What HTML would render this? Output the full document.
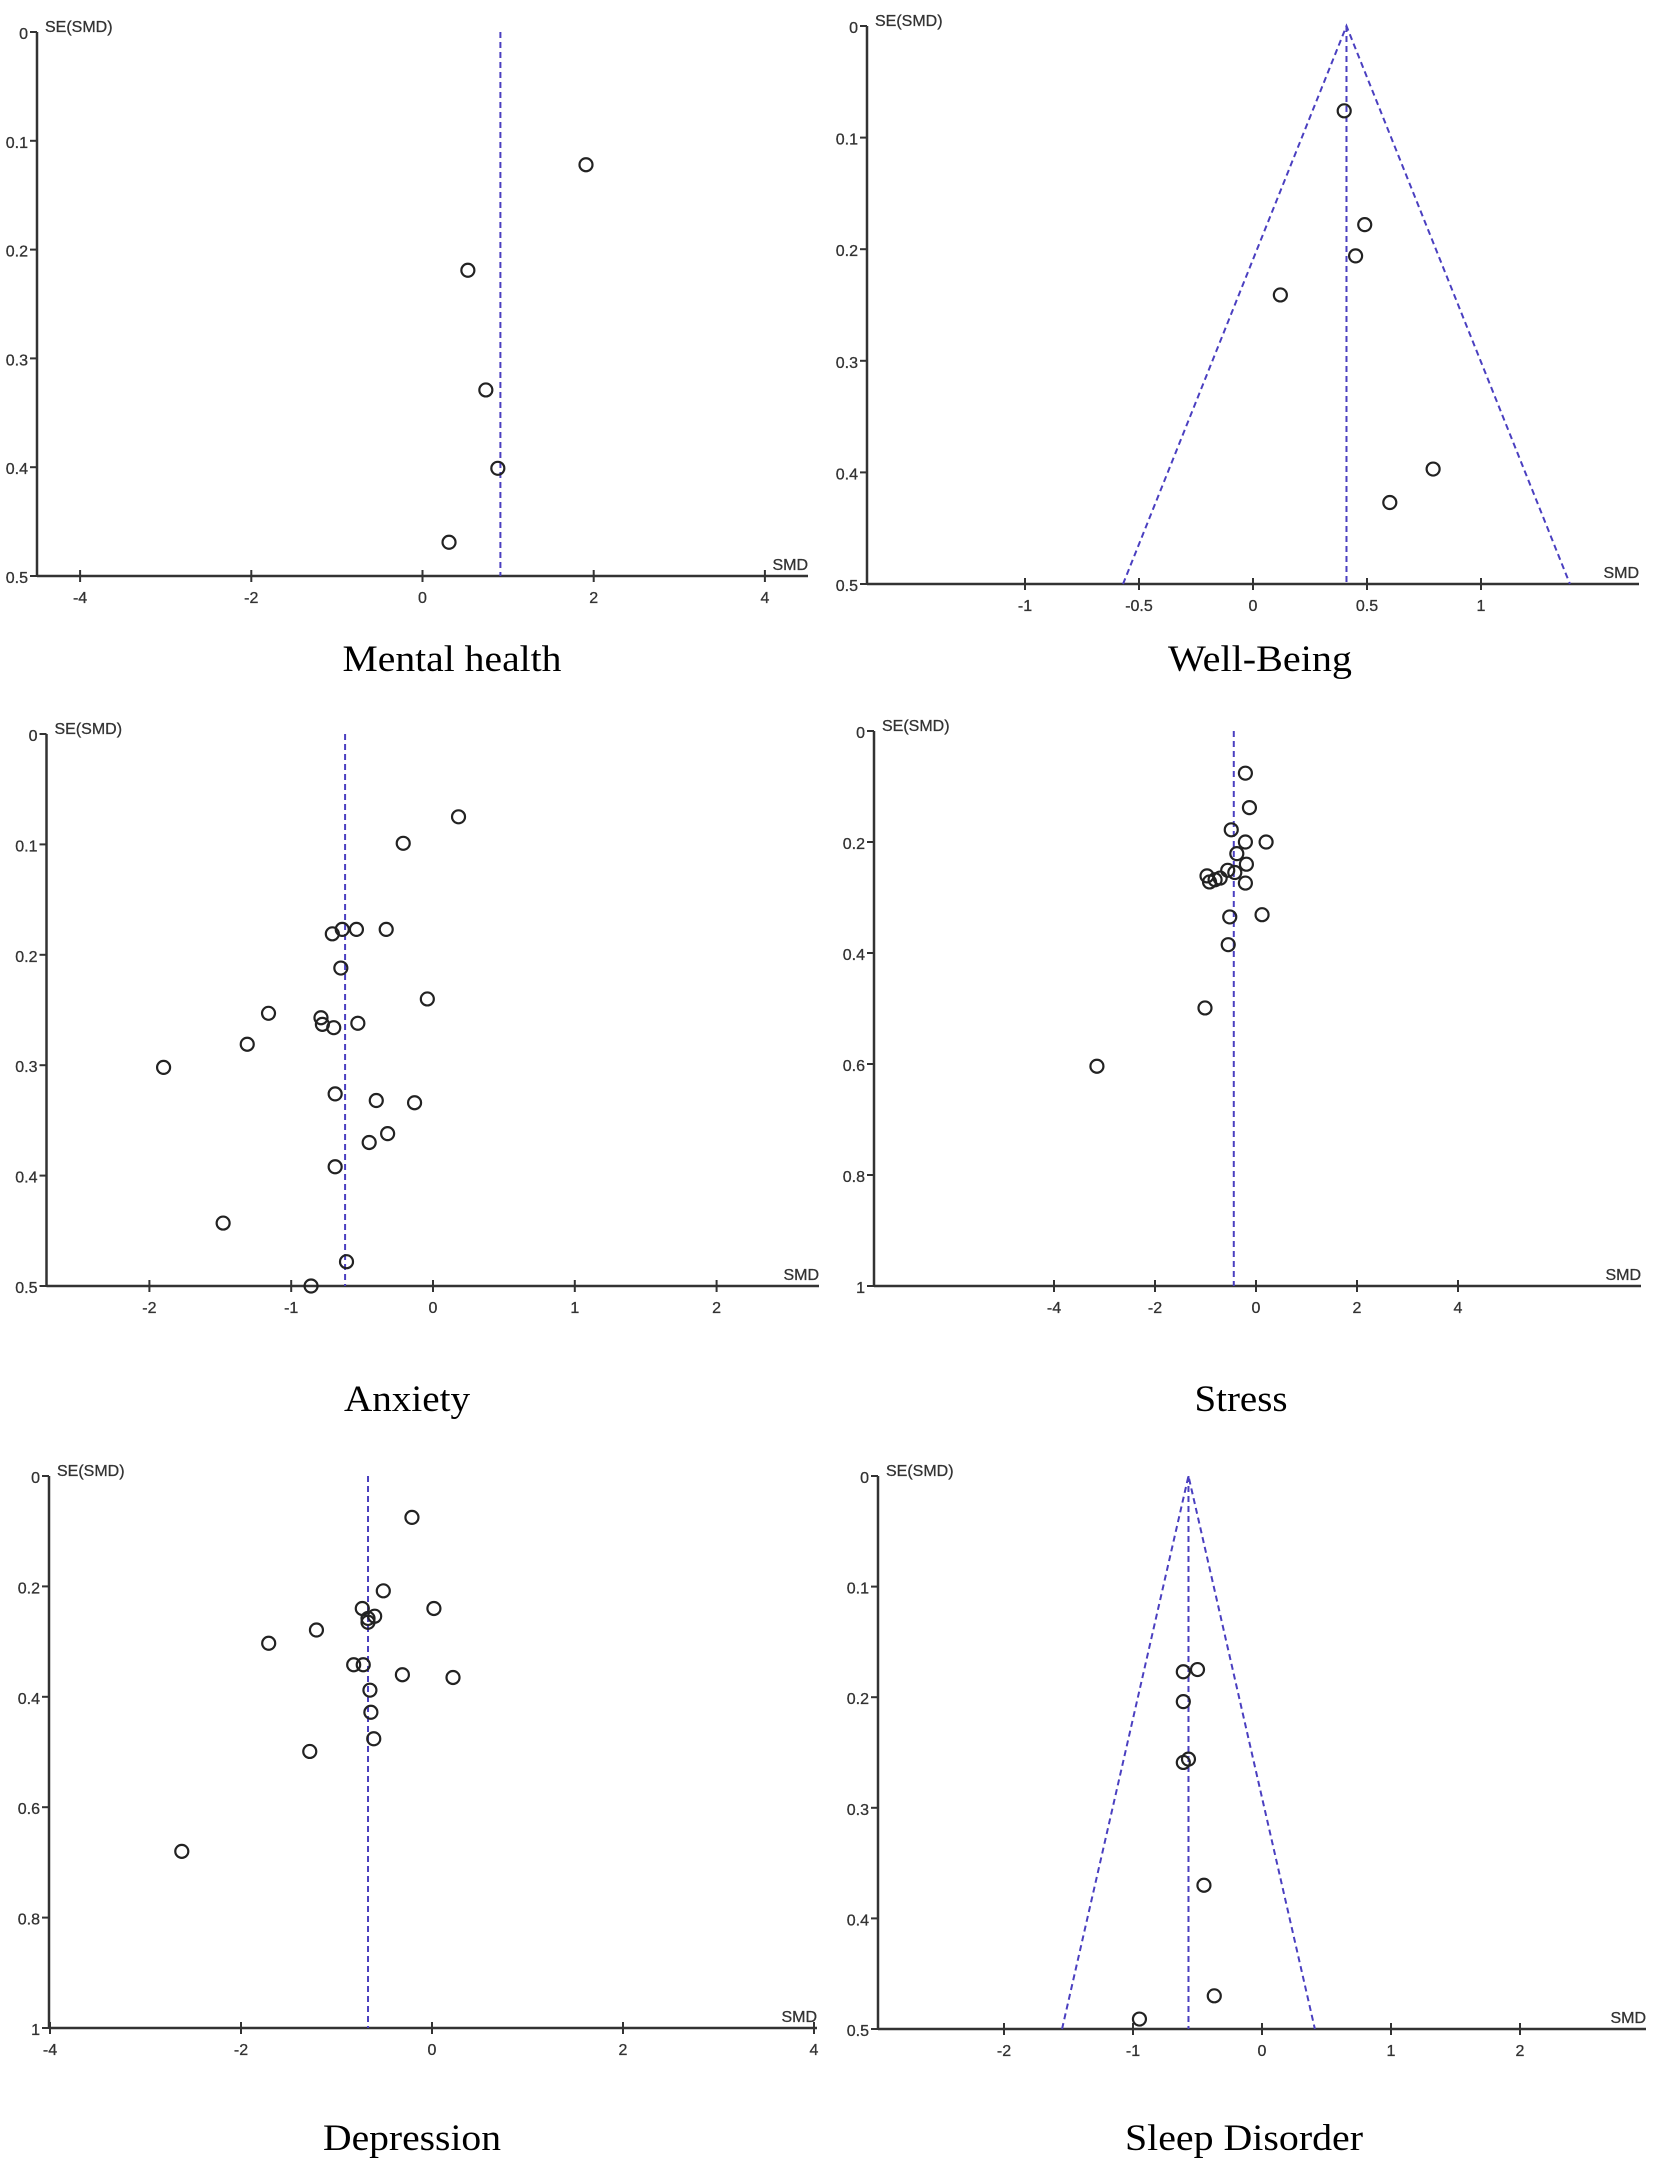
<!DOCTYPE html>
<html>
<head>
<meta charset="utf-8">
<style>
  html, body { margin:0; padding:0; background:#fff; }
  body { width:1658px; height:2162px; overflow:hidden; }
  svg { display:block; }
  .tick { font-family:"Liberation Sans", Arial, sans-serif; font-size:16px; fill:#333; stroke:#333; stroke-width:0.3px; }
  .cap { font-family:"Liberation Serif", "Times New Roman", serif; font-size:37px; fill:#000; }
</style>
</head>
<body>
<svg id="fig" width="1658" height="2162" viewBox="0 0 1658 2162" xmlns="http://www.w3.org/2000/svg"></svg>
<script>
// ---------- data (SMD, SE) per panel ----------
const mentalSMD = [1.91, 0.53, 0.74, 0.88, 0.31];
const mentalSE  = [0.122, 0.219, 0.329, 0.401, 0.469];
const mentalMean = 0.91;

const wellSMD = [0.40, 0.49, 0.45, 0.12, 0.79, 0.60];
const wellSE  = [0.076, 0.178, 0.206, 0.241, 0.397, 0.427];
const wellMean = 0.41;

const anxSMD = [0.18, -0.21, -0.64, -0.54, -0.33, -0.71, -0.65, -0.04, -1.16, -0.79, -0.78, -0.70, -0.53, -1.31, -1.90, -0.69, -0.40, -0.13, -0.32, -0.45, -0.69, -1.48, -0.61, -0.86];
const anxSE  = [0.075, 0.099, 0.177, 0.177, 0.177, 0.181, 0.212, 0.240, 0.253, 0.257, 0.263, 0.266, 0.262, 0.281, 0.302, 0.326, 0.332, 0.334, 0.362, 0.370, 0.392, 0.443, 0.478, 0.500];
const anxMean = -0.62;

const stressSMD = [-0.21, -0.13, -0.49, -0.21, 0.20, -0.38, -0.19, -0.56, -0.42, -0.97, -0.71, -0.81, -0.92, -0.21, 0.12, -0.52, -0.55, -1.01, -3.15];
const stressSE  = [0.076, 0.138, 0.178, 0.200, 0.200, 0.221, 0.240, 0.251, 0.255, 0.261, 0.265, 0.268, 0.272, 0.274, 0.331, 0.335, 0.385, 0.499, 0.604];
const stressMean = -0.44;

const depSMD = [-0.21, -0.51, -0.73, 0.02, -0.60, -0.67, -0.67, -1.21, -1.71, -0.82, -0.72, -0.31, 0.22, -0.65, -0.64, -0.61, -1.28, -2.62];
const depSE  = [0.075, 0.208, 0.240, 0.240, 0.254, 0.258, 0.265, 0.279, 0.303, 0.342, 0.342, 0.360, 0.365, 0.388, 0.428, 0.476, 0.499, 0.680];
const depMean = -0.67;

const sleepSMD = [-0.50, -0.61, -0.61, -0.57, -0.61, -0.45, -0.37, -0.95];
const sleepSE  = [0.175, 0.177, 0.204, 0.256, 0.259, 0.370, 0.470, 0.491];
const sleepMean = -0.57;

// tick label arrays
const yTicksHalf = [0, 0.1, 0.2, 0.3, 0.4, 0.5];
const yTicksOne = [0, 0.2, 0.4, 0.6, 0.8, 1];
const xTicksFour = [-4, -2, 0, 2, 4];
const xTicksOneHalf = [-1, -0.5, 0, 0.5, 1];
const xTicksTwo = [-2, -1, 0, 1, 2];

const captions = ["Mental health", "Well-Being", "Anxiety", "Stress", "Depression", "Sleep Disorder"];

// ---------- layout ----------
const NS = "http://www.w3.org/2000/svg";
const svg = document.getElementById("fig");
function mk(tag, attrs, parent) {
  const e = document.createElementNS(NS, tag);
  for (const k in attrs) e.setAttribute(k, attrs[k]);
  (parent || svg).appendChild(e);
  return e;
}

const panels = [
  {key:"mental-health", smd:mentalSMD, se:mentalSE, mean:mentalMean, funnel:false, ax:37, y0:32, yb:576, seMax:0.5, x0:422.5, unit:85.6, xEnd:808, xStart:37, yt:yTicksHalf, xt:xTicksFour, cap:captions[0], capX:452, capY:671, capW:219},
  {key:"well-being", smd:wellSMD, se:wellSE, mean:wellMean, funnel:true, ax:867, y0:26, yb:584, seMax:0.5, x0:1253, unit:228, xEnd:1639, xStart:867, yt:yTicksHalf, xt:xTicksOneHalf, cap:captions[1], capX:1260, capY:671, capW:184},
  {key:"anxiety", smd:anxSMD, se:anxSE, mean:anxMean, funnel:false, ax:46.5, y0:734, yb:1286, seMax:0.5, x0:433, unit:141.8, xEnd:819, xStart:46.5, yt:yTicksHalf, xt:xTicksTwo, cap:captions[2], capX:407, capY:1411, capW:126},
  {key:"stress", smd:stressSMD, se:stressSE, mean:stressMean, funnel:false, ax:874, y0:731, yb:1286, seMax:1, x0:1256, unit:50.5, xEnd:1641, xStart:874, yt:yTicksOne, xt:xTicksFour, cap:captions[3], capX:1241, capY:1411, capW:93},
  {key:"depression", smd:depSMD, se:depSE, mean:depMean, funnel:false, ax:49, y0:1476, yb:2028, seMax:1, x0:432, unit:95.5, xEnd:817, xStart:49, yt:yTicksOne, xt:xTicksFour, cap:captions[4], capX:412, capY:2150, capW:178},
  {key:"sleep-disorder", smd:sleepSMD, se:sleepSE, mean:sleepMean, funnel:true, ax:878, y0:1476, yb:2029, seMax:0.5, x0:1262, unit:129, xEnd:1646, xStart:878, yt:yTicksHalf, xt:xTicksTwo, cap:captions[5], capX:1244, capY:2150, capW:238}
];

panels.forEach(p => {
  const xs = v => p.x0 + p.unit * v;
  const ys = v => p.y0 + (p.yb - p.y0) * v / p.seMax;
  const g = mk("g", {});
  
  

  const yAxis = mk("line", {x1:p.ax, y1:p.y0, x2:p.ax, y2:p.yb, stroke:"#333", "stroke-width":2.5}, g);
  
  
  const xAxis = mk("line", {x1:p.xStart, y1:p.yb, x2:p.xEnd, y2:p.yb, stroke:"#333", "stroke-width":2.5}, g);
  
  

  p.yt.forEach(t => {
    const y = ys(t);
    mk("line", {x1:p.ax-7, y1:y, x2:p.ax, y2:y, stroke:"#333", "stroke-width":2}, g);
    const tx = mk("text", {x:p.ax-9, y:y+7, "text-anchor":"end", class:"tick"}, g);
    tx.textContent = String(t);
    
    
  });
  p.xt.forEach(t => {
    const x = xs(t);
    mk("line", {x1:x, y1:p.yb-6, x2:x, y2:p.yb+6, stroke:"#333", "stroke-width":2}, g);
    const tx = mk("text", {x:x, y:p.yb+27, "text-anchor":"middle", class:"tick"}, g);
    tx.textContent = String(t);
    
    
  });

  const yt = mk("text", {x:p.ax+8, y:p.y0, class:"tick"}, g);
  yt.textContent = "SE(SMD)";
  
  
  const xt = mk("text", {x:p.xEnd, y:p.yb-6, "text-anchor":"end", class:"tick"}, g);
  xt.textContent = "SMD";
  
  

  const dash = {stroke:"#4a3fc0", "stroke-width":2, "stroke-dasharray":"6 4", fill:"none"};
  const ml = mk("line", Object.assign({x1:xs(p.mean), y1:p.y0, x2:xs(p.mean), y2:p.yb}, dash), g);
  
  
  if (p.funnel) {
    const lw = 1.96 * p.seMax;
    const fl = mk("polyline", Object.assign({points:`${xs(p.mean-lw)},${p.yb} ${xs(p.mean)},${p.y0} ${xs(p.mean+lw)},${p.yb}`}, dash), g);
    
    
  }

  p.smd.forEach((v, i) => {
    const c = mk("ellipse", {cx:xs(v), cy:ys(p.se[i]), rx:6.5, ry:6.5, fill:"none", stroke:"#222", "stroke-width":2.2}, g);
    
    
  });

  const cap = mk("text", {x:p.capX, y:p.capY, "text-anchor":"middle", class:"cap", textLength:p.capW, lengthAdjust:"spacingAndGlyphs"}, g);
  cap.textContent = p.cap;
  
  
});
</script>
</body>
</html>
